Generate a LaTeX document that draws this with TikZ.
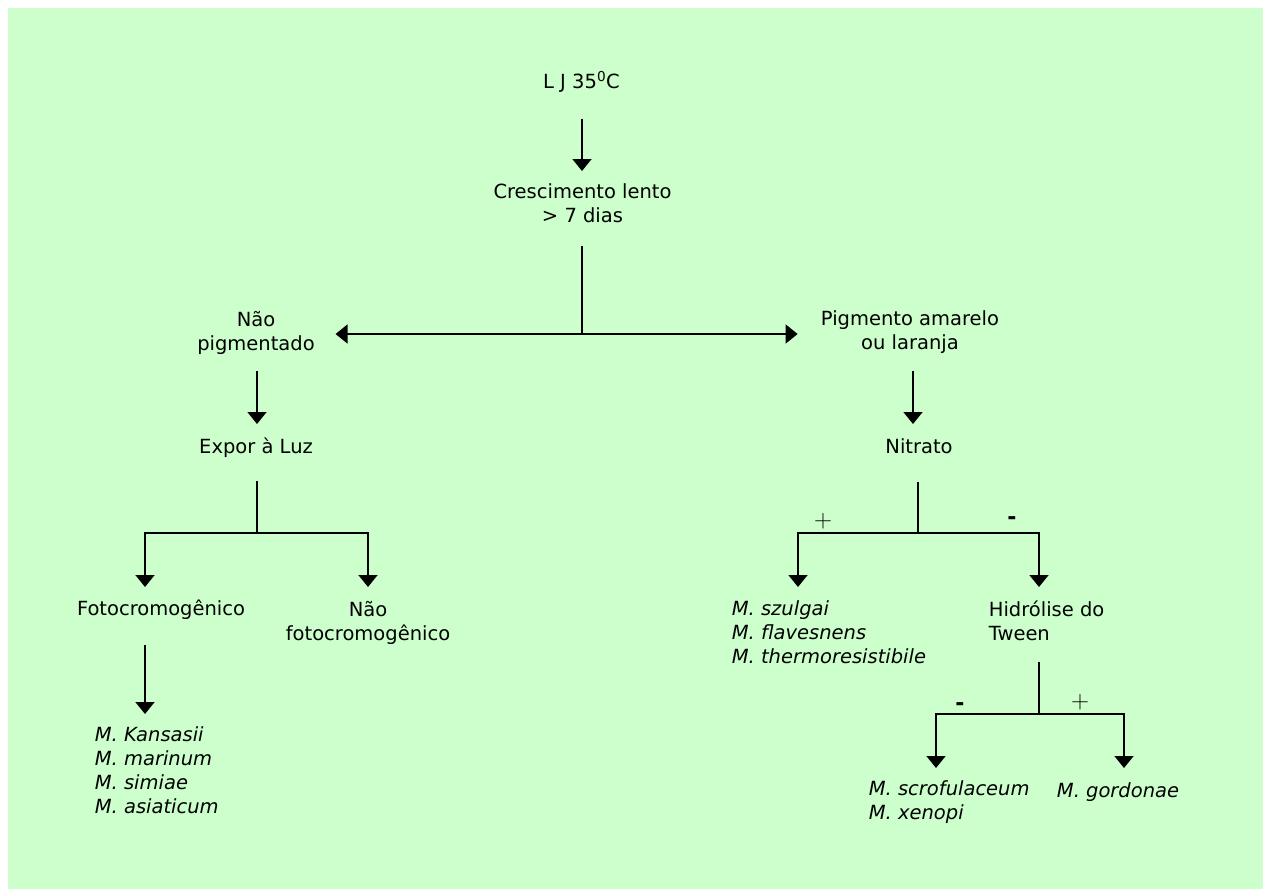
\documentclass[tikz,border=0pt]{standalone}
\usepackage{fontspec}
\newfontfamily\verd{DejaVu Sans}
\usetikzlibrary{arrows.meta}
\definecolor{fundo}{HTML}{CCFFCC}

\begin{document}
\begin{tikzpicture}[x=1pt,y=-1pt,line width=1.7pt,
    txt/.style={inner sep=0pt,align=center,font=\verd\fontsize{19.5}{24}\selectfont,
      execute at begin node=\strut,execute at end node=\strut},
    esp/.style={txt,align=left,font=\verd\itshape\fontsize{19.5}{24}\selectfont},
    sinal/.style={inner sep=0pt,font=\fontsize{25}{24}\selectfont},
    menos/.style={inner sep=0pt,font=\verd\bfseries\fontsize{22}{24}\selectfont},
    seta/.style={-{Triangle[width=19pt,length=12pt]}}]
  \useasboundingbox (0,0) rectangle (1263,889);
  \fill[fundo] (8,8) rectangle (1263,889);

  % caixas de texto
  \node[txt,anchor=north] (lj) at (581.5,70.2) {L J 35\textsuperscript{0}C};
  \node[txt,anchor=north] (cresc) at (582.5,183.2) {Crescimento lento\\> 7 dias};
  \node[txt,anchor=north] (naopig) at (256,310.2) {Não\\pigmentado};
  \node[txt,anchor=north] (pigm) at (910,310.2) {Pigmento amarelo\\ou laranja};
  \node[txt,anchor=north] (expor) at (256,436.2) {Expor à Luz};
  \node[txt,anchor=north] (nitr) at (919,436.2) {Nitrato};
  \node[txt,anchor=north] (foto) at (161,598.2) {Fotocromogênico};
  \node[txt,anchor=north] (naofoto) at (368,600.2) {Não\\fotocromogênico};
  \node[txt,align=left,anchor=north west] (tween) at (988,600.2) {Hidrólise do\\Tween};
  \node[esp,anchor=north west] (kans) at (94,726.2) {M. Kansasii\\M. marinum\\M. simiae\\M. asiaticum};
  \node[esp,anchor=north west] (szul) at (731,600.2) {M. szulgai\\M. flavesnens\\M. thermoresistibile};
  \node[esp,anchor=north west] (scrof) at (868,780.2) {M. scrofulaceum\\M. xenopi};
  \node[esp,anchor=north] (gord) at (1118,780.2) {M. gordonae};

  % sinais
  \node[sinal] (mais1) at (823,521) {+};
  \node[menos] (menos1) at (1012,521) {-};
  \node[menos] (menos2) at (960,707) {-};
  \node[sinal] (mais2) at (1080,702) {+};

  % pontos de ramificacao
  \coordinate (r1) at (582,334);
  \coordinate (r2) at (257,533);
  \coordinate (r3) at (918,533);
  \coordinate (r4) at (1039,714);

  % ligacoes
  \draw[seta,shorten <=21.8pt,shorten >=12.2pt] (r1 |- lj.south) -- (r1 |- cresc.north);
  \draw[shorten <=14.8pt] (r1 |- cresc.south) -- (r1);
  \draw[seta,shorten >=20pt] (r1) -- (r1 -| naopig.east);
  \draw[seta,shorten >=22.5pt] (r1) -- (r1 -| pigm.west);
  \draw[seta,shorten <=12.8pt,shorten >=12.2pt] (r2 |- naopig.south) -- (r2 |- expor.north);
  \draw[seta,shorten <=12.8pt,shorten >=12.2pt] ([xshift=3pt]pigm.south) -- ([xshift=3pt]pigm.south |- nitr.north);
  \draw[shorten <=18.8pt] (r2 |- expor.south) -- (r2);
  \draw[seta,shorten >=11.2pt] (r2) -| ([xshift=-16pt]foto.north);
  \draw[seta,shorten >=13.2pt] (r2) -| (naofoto.north);
  \draw[seta,shorten <=20.8pt,shorten >=12.2pt] ([xshift=-16pt]foto.south) -- ([xshift=-16pt]foto.south |- kans.north);
  \draw[shorten <=19.8pt] (r3 |- nitr.south) -- (r3);
  \draw[seta,shorten >=13.2pt] (r3) -| ([xshift=67pt]szul.north west);
  \draw[seta,shorten >=13.2pt] (r3) -| ([xshift=51pt]tween.north west);
  \draw[shorten <=12.8pt] ([xshift=51pt]tween.south west) -- (r4);
  \draw[seta,shorten >=12.2pt] (r4) -| ([xshift=68pt]scrof.north west);
  \draw[seta,shorten >=12.2pt] (r4) -| ([xshift=6pt]gord.north);
\end{tikzpicture}
\end{document}
